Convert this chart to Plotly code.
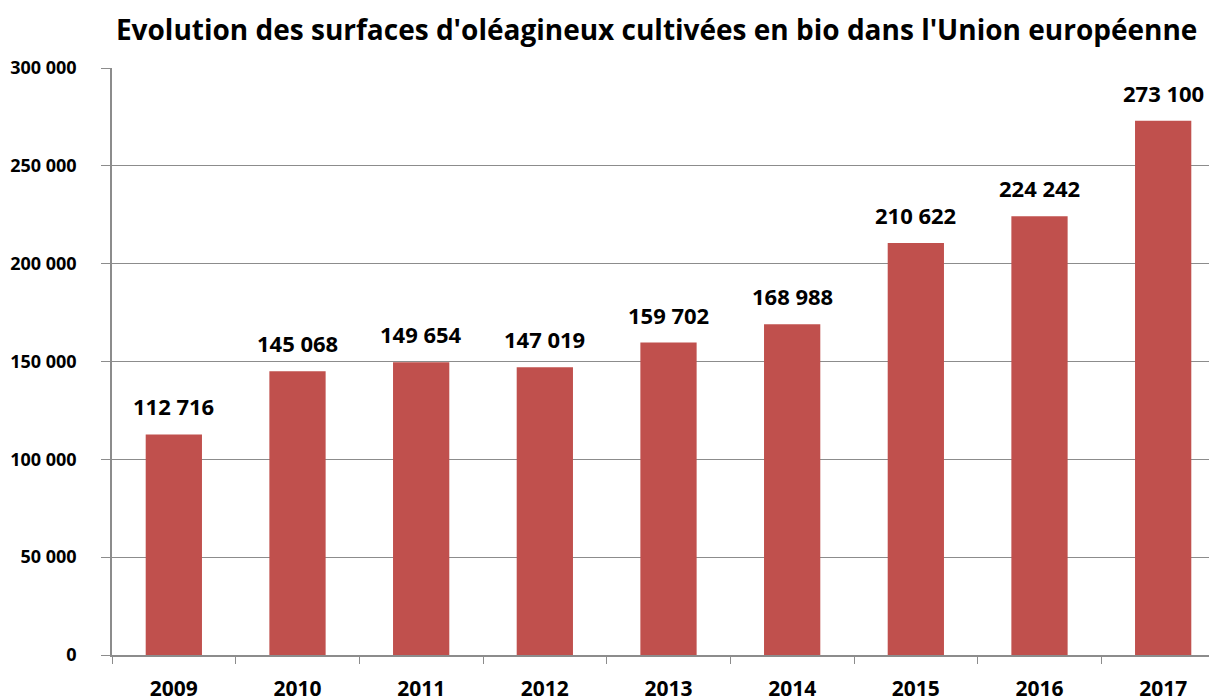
import plotly.graph_objects as go

years = ["2009", "2010", "2011", "2012", "2013", "2014", "2015", "2016", "2017"]
surfaces = [112716, 145068, 149654, 147019, 159702, 168988, 210622, 224242, 273100]
y_ticks = [0, 50000, 100000, 150000, 200000, 250000, 300000]

def fmt(v):
    return f"{v:,}".replace(",", " ")

FONT = "Open Sans"
fig = go.Figure()
fig.add_trace(go.Bar(
    x=years, y=surfaces,
    marker=dict(color="#C0504D", line=dict(width=0)),
    hoverinfo="skip",
))
for i, v in enumerate(surfaces):
    fig.add_annotation(x=i, y=v, text=fmt(v), showarrow=False,
                       yanchor="bottom", yshift=11,
                       font=dict(family=FONT, size=22, color="black", weight="bold"))

fig.update_layout(
    width=1217, height=697,
    margin=dict(l=104, r=0, t=60, b=50),
    paper_bgcolor="white", plot_bgcolor="white",
    showlegend=False,
    bargap=0.545,
    title=dict(text="<b>Evolution des surfaces d'oléagineux cultivées en bio dans l'Union européenne</b>",
               x=0.533, xanchor="center", y=0.968, yanchor="middle",
               font=dict(family=FONT, size=28, color="black")),
    font=dict(family=FONT, color="black"),
)
fig.update_yaxes(
    range=[0, 300000], tickvals=y_ticks, ticktext=[fmt(v) for v in y_ticks],
    showgrid=True, gridcolor="#8C8C8C", gridwidth=1,
    showline=True, linecolor="#8C8C8C", linewidth=1.5,
    ticks="outside", ticklen=9, tickcolor="#8C8C8C",
    ticklabelstandoff=21,
    tickfont=dict(family=FONT, size=18, color="black", weight="bold"),
    zeroline=False,
)
fig.update_xaxes(
    type="category", range=[-0.5, len(years) - 0.5],
    showline=True, linecolor="#8C8C8C", linewidth=1.5,
    ticks="outside", ticklen=7, tickcolor="#8C8C8C", tickson="boundaries",
    ticklabelstandoff=14, tickangle=0,
    tickfont=dict(family=FONT, size=21, color="black", weight="bold"),
    showgrid=False,
)
fig.write_html("out.html")
